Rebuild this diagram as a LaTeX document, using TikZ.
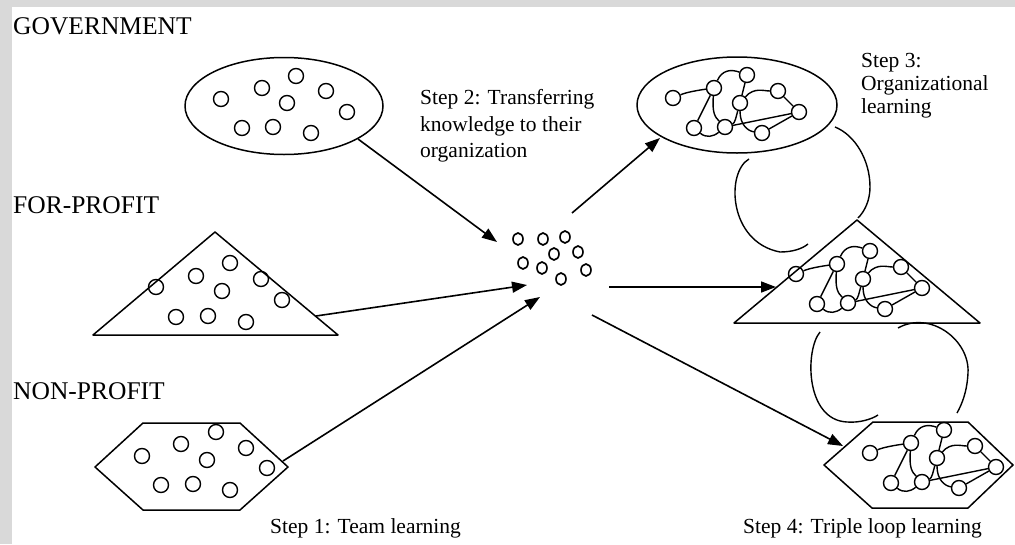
\documentclass[tikz,border=0pt]{standalone}
\usepackage{fontspec}
\setmainfont{Liberation Serif}
\usetikzlibrary{arrows.meta,shapes.geometric}

% One organization's learning network: nine members joined by links
\newcommand\orgnet[3]{%
  \begin{scope}[shift={(#2,#3)}]
    \node[dot] (#1a) at (673,98)  {};
    \node[dot] (#1b) at (714,88)  {};
    \node[dot] (#1c) at (747,75)  {};
    \node[dot] (#1d) at (740,103) {};
    \node[dot] (#1e) at (778,91)  {};
    \node[dot] (#1f) at (799,112) {};
    \node[dot] (#1g) at (694,128) {};
    \node[dot] (#1h) at (725,127) {};
    \node[dot] (#1i) at (762,133) {};
    \draw[link] (#1a) .. controls +(14,-6) and +(-14,2) .. (#1b);
    \draw[link] (#1b) .. controls +(8,-18) and +(-16,-6) .. (#1c);
    \draw[link] (#1b) -- (#1g);
    \draw[link] (#1b) .. controls +(-2,25) and +(-10,-10) .. (#1h);
    \draw[link] (#1c) -- (#1d);
    \draw[link] (#1d) .. controls +(-4,14) and +(10,-4) .. (#1h);
    \draw[link] (#1d) .. controls +(0,22) and +(-14,-2) .. (#1i);
    \draw[link] (#1d) .. controls +(14,-16) and +(-14,0) .. (#1e);
    \draw[link] (#1e) -- (#1f);
    \draw[link] (#1g) .. controls +(12,10) and +(-12,10) .. (#1h);
    \draw[link] (#1h) -- (#1f);
    \draw[link] (#1i) -- (#1f);
  \end{scope}}

\begin{document}
\begin{tikzpicture}[x=1pt,y=-1pt,
  outline/.style={draw=black,line width=1.5pt,line join=round},
  dot/.style={circle,draw=black,line width=1.4pt,minimum size=15pt,inner sep=0pt},
  hubdot/.style={ellipse,draw=black,line width=1.6pt,minimum width=10pt,minimum height=12pt,inner sep=0pt},
  link/.style={draw=black,line width=1.4pt},
  loopline/.style={draw=black,line width=1.4pt},
  flow/.style={draw=black,line width=1.6pt,-{Triangle[length=15pt,width=11pt]}},
  sector/.style={font=\fontsize{25.5}{30}\selectfont,anchor=base west,inner sep=0pt},
  steptext/.style={font=\fontsize{21.5}{26.5}\selectfont,inner sep=0pt,align=left}
]
% page and frame
\fill[white] (0,0) rectangle (1015,544);
\useasboundingbox (0,0) rectangle (1015,544);
\fill[black!15] (0,0) rectangle (1015,7);
\fill[black!15] (0,0) rectangle (12,544);

% sector labels
\node[sector] (lgov) at (13,34)  {GOVERNMENT};
\node[sector] (lfp)  at (13,213) {FOR-PROFIT};
\node[sector] (lnp)  at (13,399) {NON-PROFIT};

% step labels
\node[steptext,anchor=north west] (s2) at (420,89.5) {Step 2: Transferring\\knowledge to their\\organization};
\node[steptext,anchor=north west,font=\fontsize{21.5}{23}\selectfont] (s3) at (861,53.5) {Step 3:\\Organizational\\learning};
\node[steptext,anchor=base west] (s1) at (270,533) {Step 1: Team learning};
\node[steptext,anchor=base west] (s4) at (743,533) {Step 4: Triple loop learning};

% left: the three sectors with their members
\draw[outline] (284,106) ellipse [x radius=99, y radius=48.5];
\foreach \p [count=\k] in {(221,99),(262,88),(296,76),(326,91),(287,103),(347,112),(242,128),(273,127),(311,133)}
  \node[dot] (gov\k) at \p {};

\draw[outline] (215,232) -- (93,335) -- (338,335) -- cycle;
\foreach \p [count=\k] in {(156,287),(196,276),(230,263),(261,279),(222,291),(282,300),(176,317),(208,316),(246,322)}
  \node[dot] (fp\k) at \p {};

\draw[outline] (143,423) -- (240,423) -- (288,467) -- (240,510) -- (143,510) -- (95,467) -- cycle;
\foreach \p [count=\k] in {(142,456),(181,444),(216,432),(246,448),(207,460),(267,468),(161,485),(193,484),(230,490)}
  \node[dot] (np\k) at \p {};

% centre: the mixed team
\foreach \p [count=\k] in {(518,239),(543,239),(565,237),(554,254),(578,252),(523,263),(542,268),(586,270),(561,279)}
  \node[hubdot] (hub\k) at \p {};

% right: the organizations after transfer
\draw[outline] (737,105) ellipse [x radius=100, y radius=48];
\orgnet{ta}{0}{0}
\draw[outline] (857,220) -- (734,323) -- (980,323) -- cycle;
\orgnet{tb}{123}{176}
\draw[outline] (873,422) -- (968,422) -- (1013,465) -- (968,508) -- (872,508) -- (824,465) -- cycle;
\orgnet{tc}{197}{355}

% arrow end points
\coordinate (govout) at (358,139);
\coordinate (fpout)  at (316,316);
\coordinate (npout)  at (283,461);
\coordinate (hubin1) at (497,242);
\coordinate (hubin2) at (527,285);
\coordinate (hubin3) at (540,297);
\coordinate (hubout1) at (572,213);
\coordinate (hubout2) at (609,287);
\coordinate (hubout3) at (592,315);
\coordinate (orgin1) at (660,138);
\coordinate (orgin2) at (776,287);
\coordinate (orgin3) at (843,446);

\draw[flow] (govout) -- (hubin1);
\draw[flow] (fpout) -- (hubin2);
\draw[flow] (npout) -- (hubin3);
\draw[flow] (hubout1) -- (orgin1);
\draw[flow] (hubout2) -- (orgin2);
\draw[flow] (hubout3) -- (orgin3);

% triple loops
\coordinate (la1) at (749,159);
\coordinate (la2) at (780,252);
\coordinate (la3) at (808,244);
\draw[loopline] (la1) .. controls (726,172) and (728,242) .. (la2) .. controls (792,252) and (802,249) .. (la3);
\coordinate (lb1) at (835,127);
\coordinate (lb2) at (870,187);
\coordinate (lb3) at (858,218);
\draw[loopline] (lb1) .. controls (855,135) and (870,160) .. (lb2) .. controls (870,200) and (865,211) .. (lb3);
\coordinate (lc1) at (820,332);
\coordinate (lc2) at (847,422);
\coordinate (lc3) at (878,415);
\draw[loopline] (lc1) .. controls (805,350) and (805,420) .. (lc2) .. controls (860,423) and (872,419) .. (lc3);
\coordinate (ld1) at (898,328);
\coordinate (ld2) at (968,373);
\coordinate (ld3) at (957,413);
\draw[loopline] (ld1) .. controls (930,310) and (970,340) .. (ld2) .. controls (967,392) and (962,404) .. (ld3);
\end{tikzpicture}
\end{document}
